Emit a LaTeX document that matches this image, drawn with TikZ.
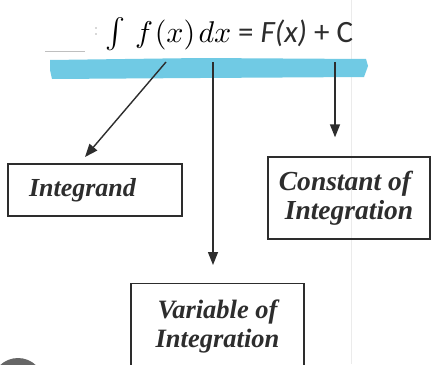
\documentclass[tikz,border=0pt]{standalone}
\usepackage{fontspec}
\setmainfont{Liberation Serif}
\newfontfamily\eqfont{Carlito}
\usetikzlibrary{arrows.meta}
\definecolor{hl}{RGB}{112,202,228}
\definecolor{ink}{RGB}{45,45,45}
\tikzset{
  termbox/.style={draw=ink, line width=1.4pt, inner sep=0pt, align=center, text=ink},
  boxtext/.style 2 args={font=\fontsize{#1}{#2}\selectfont\bfseries\itshape},
  arr/.style={draw=ink, line width=1.4pt, -{Triangle[width=10pt,length=13pt]}},
}
\begin{document}
\begin{tikzpicture}[x=1pt,y=-1pt]
\useasboundingbox (0,0) rectangle (438,364);
\clip (0,0) rectangle (438,364);
\fill[white] (0,0) rectangle (438,364);
% faint page artefacts
\draw[black!8, line width=1pt] (351,0) -- (351,364);
\draw[black!25, line width=0.6pt] (45,51) -- (85,51);
\fill[black!30] (96,28) circle (0.9) (96,34) circle (0.9);
% highlighter band
\fill[hl] (50,60) -- (200,58) -- (366,59) -- (368,66) -- (364,77) -- (200,78) -- (52,79) -- (50,70) -- cycle;
% equation
\node[anchor=base west, inner sep=0pt, text=black] (eqL) at (105,42)
  {\fontsize{10}{12}\selectfont\scalebox{3}{$\int\mkern3mu f\mkern1mu(x)\mkern2mu d x$}};
\node[anchor=base west, inner sep=0pt, text=ink] (eqR) at (238,42)
  {\fontsize{31}{34}\selectfont\eqfont = \textit{F(x)} + C};
% boxes
\node[termbox, minimum width=174, minimum height=52, boxtext={26}{30}] (intg) at (95,190)
  {\makebox[174pt][l]{\hspace{21pt}Integrand}};
\node[termbox, minimum width=162, minimum height=82, boxtext={27.5}{29}] (cons) at (349,198)
  {\makebox[162pt][c]{\hspace{-8pt}Constant of}\\Integration};
\node[termbox, anchor=north, boxtext={26.5}{29}] (var) at (217.5,283)
  {\begin{minipage}[t][100pt][t]{173pt}\centering\vspace*{16pt}Variable of\\Integration\end{minipage}};
% connector ends
\coordinate (s1) at (166,62);
\coordinate (s2) at (213,62);
\coordinate (s3) at (335,62);
\coordinate (e1) at (85,157);
\draw[arr] (s1) -- (e1);
\draw[arr, shorten >=18pt] (s2) -- (s2 |- var.north);
\draw[arr, shorten >=19pt] (s3) -- (s3 |- cons.north);
% bottom-left disc fragment
\fill[black!60] (18,384) circle (26);
\end{tikzpicture}
\end{document}
